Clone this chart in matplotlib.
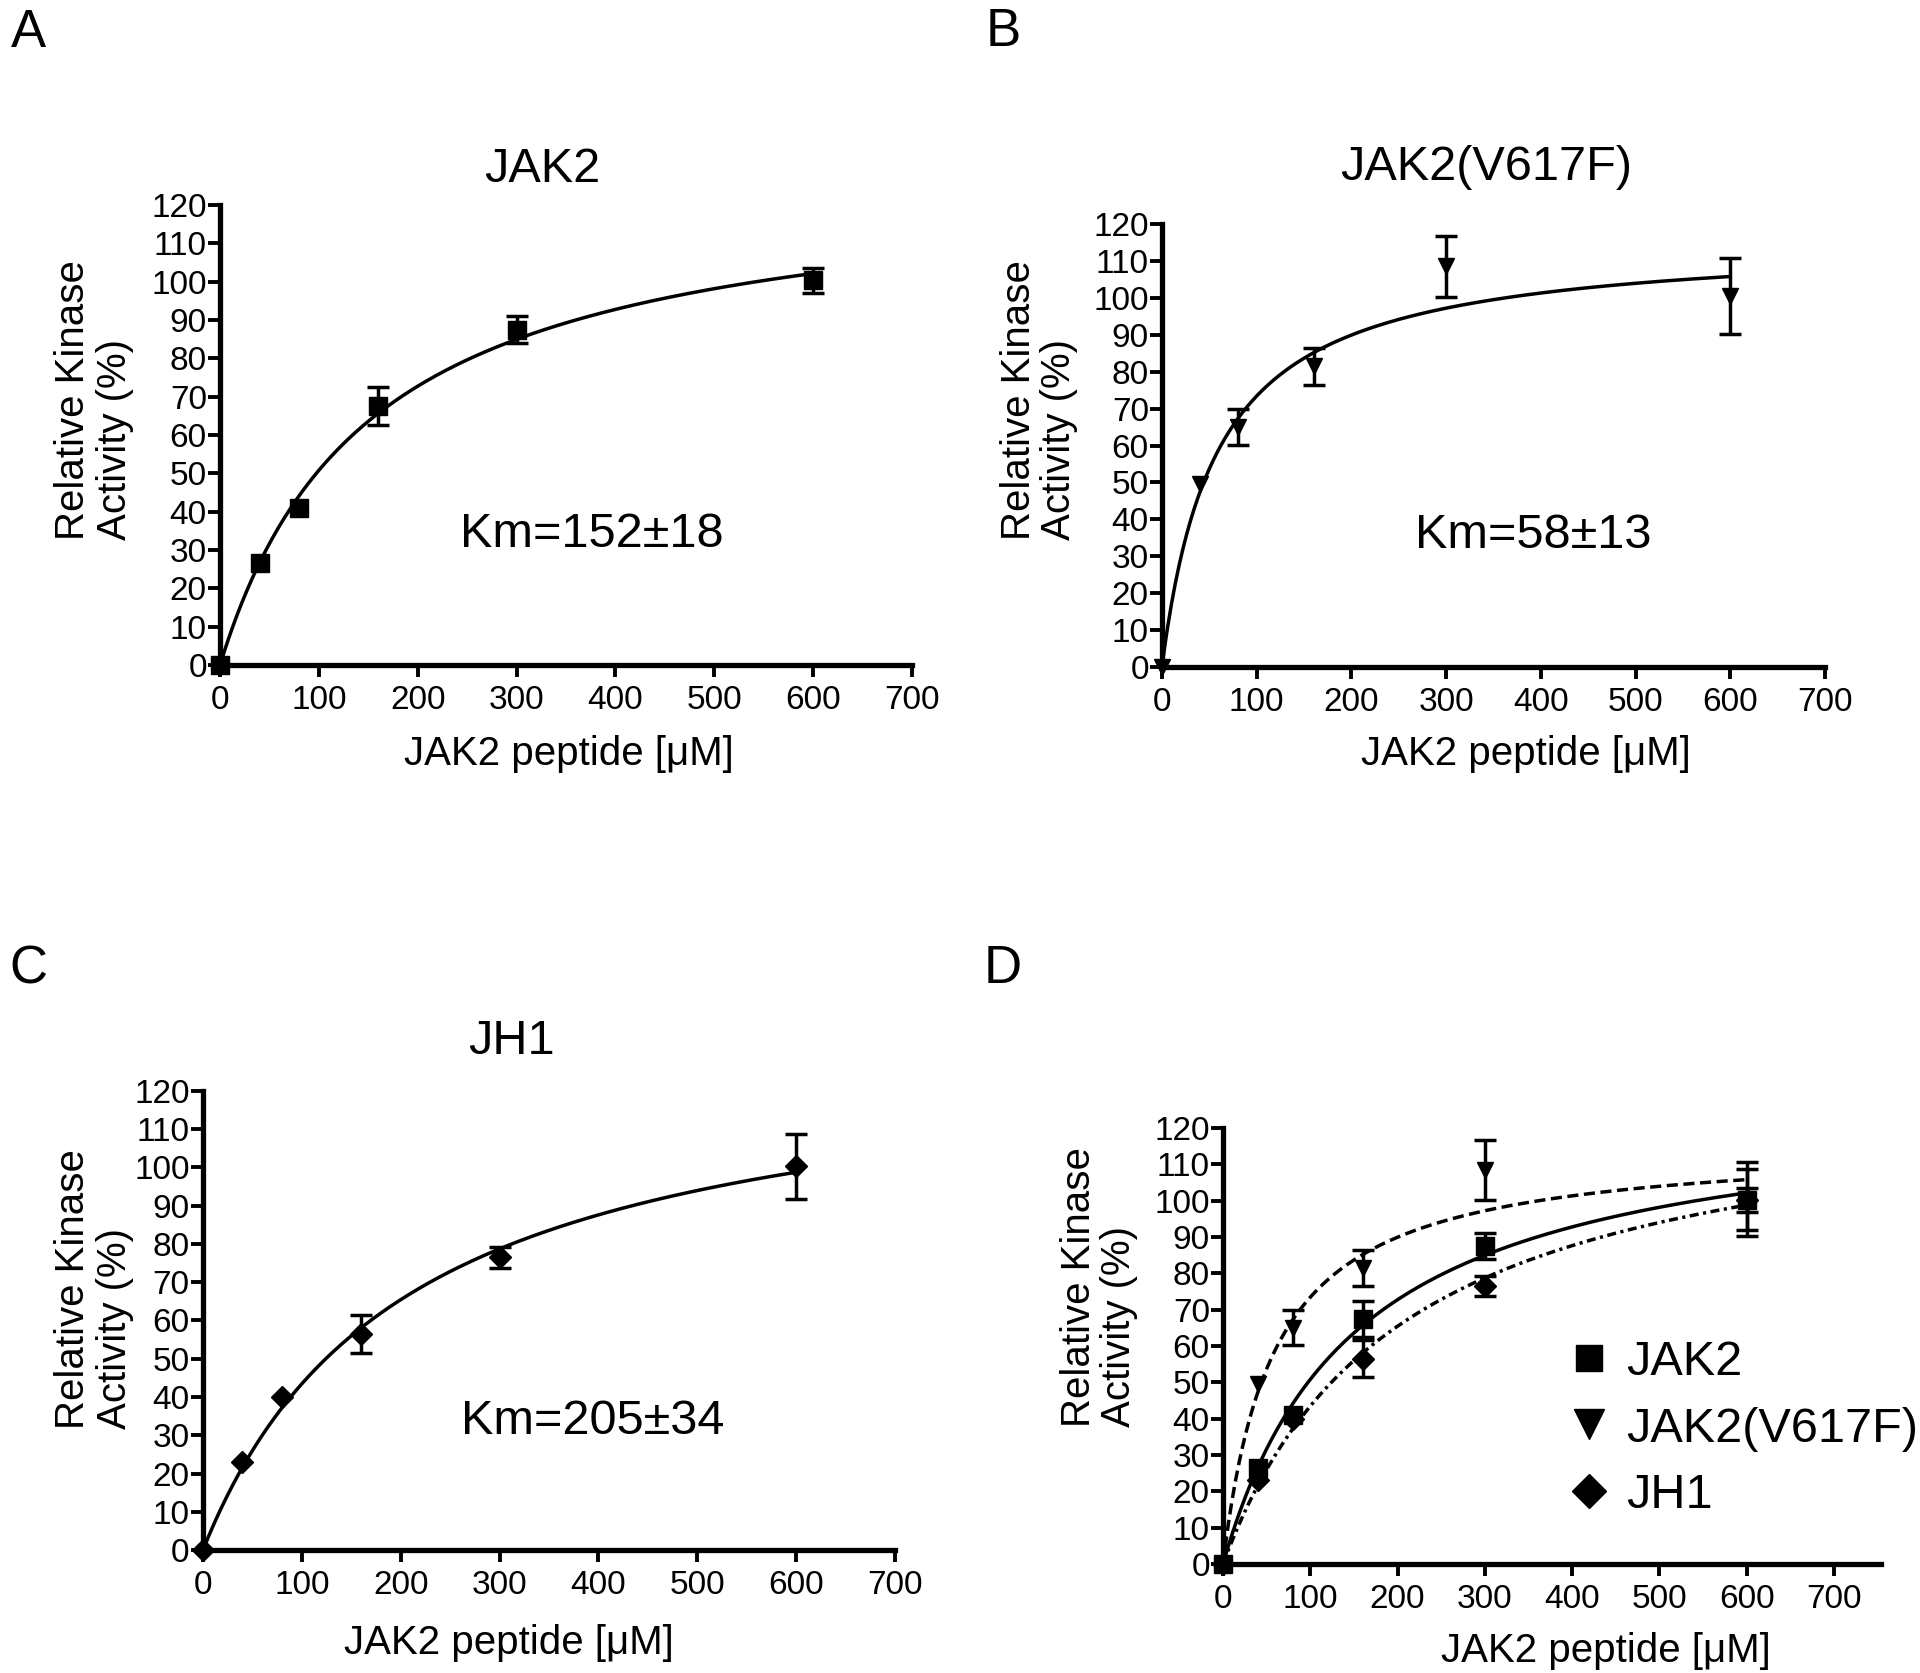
import matplotlib
matplotlib.use("Agg")
import matplotlib.pyplot as plt
from matplotlib.lines import Line2D
import numpy as np

plt.rcParams['font.family'] = ['Liberation Sans', 'DejaVu Sans']

# peptide concentrations (uM)
conc = [0, 40, 80, 160, 300, 600]

# relative kinase activity (%) and error (+/-); nan = bar hidden by symbol
nan = float('nan')
jak2_act = [0, 26.5, 41, 67.5, 87.5, 100.3]
jak2_err = [nan, nan, nan, 5, 3.5, 3.3]
v617f_act = [0, 49.5, 65, 81.5, 108.5, 100.5]
v617f_err = [nan, nan, 4.8, 5, 8.3, 10.2]
jh1_act = [0, 23, 40, 56.5, 76.5, 100.3]
jh1_err = [nan, nan, nan, 5, 2.7, 8.5]

# Michaelis-Menten fits: (Vmax, Km)
jak2_fit = (128, 152)
v617f_fit = (116, 58)
jh1_fit = (132.5, 205)

xticks = [0, 100, 200, 300, 400, 500, 600, 700]
yticks = list(range(0, 121, 10))

W, H = 1920, 1673


def px(x, y):
    # pixel position -> figure fraction
    return x / W, 1 - y / H


def mm_curve(fit):
    vmax, km = fit
    s = np.linspace(0, 600, 300)
    return s, vmax * s / (km + s)


def setup(ax, xmax=700):
    ax.set_xlim(0, xmax)
    ax.set_ylim(0, 120)
    ax.set_xticks(xticks)
    ax.set_yticks(yticks)
    for side in ['top', 'right']:
        ax.spines[side].set_visible(False)
    for side in ['left', 'bottom']:
        ax.spines[side].set_linewidth(3.8)
    ax.tick_params(direction='out', length=8.5, width=2.8, labelsize=24)
    ax.tick_params(axis='y', pad=1)
    ax.tick_params(axis='x', pad=6)


def data(ax, act, err, marker, ms):
    ax.errorbar(conc, act, yerr=err, fmt=marker, ms=ms, color='black',
                ecolor='black', elinewidth=2.5, capsize=8, capthick=2.5,
                clip_on=False, zorder=3)


fig = plt.figure(figsize=(19.2, 16.73), dpi=100)

axA = fig.add_axes([0.1146, 0.6025, 0.3604, 0.2750])
axB = fig.add_axes([0.6052, 0.6013, 0.3453, 0.2648])
axC = fig.add_axes([0.1057, 0.0735, 0.3604, 0.2744])
axD = fig.add_axes([0.6370, 0.0652, 0.3427, 0.2606])

for ax in [axA, axB, axC]:
    setup(ax)
setup(axD, xmax=754)

# A: JAK2
s, v = mm_curve(jak2_fit)
axA.plot(s, v, color='black', lw=2.5)
data(axA, jak2_act, jak2_err, 's', 13)
axA.text(376, 34, 'Km=152±18', fontsize=35, ha='center', va='center')

# B: JAK2(V617F)
s, v = mm_curve(v617f_fit)
axB.plot(s, v, color='black', lw=2.5)
data(axB, v617f_act, v617f_err, 'v', 11)
axB.text(392, 35.5, 'Km=58±13', fontsize=35, ha='center', va='center')

# C: JH1
s, v = mm_curve(jh1_fit)
axC.plot(s, v, color='black', lw=2.5)
data(axC, jh1_act, jh1_err, 'D', 11)
axC.text(394, 33.5, 'Km=205±34', fontsize=35, ha='center', va='center')

# D: all three
s, v = mm_curve(jak2_fit)
axD.plot(s, v, color='black', lw=2.5, ls='-')
s, v = mm_curve(v617f_fit)
axD.plot(s, v, color='black', lw=2.5, ls=(0, (3.2, 1.6)))
s, v = mm_curve(jh1_fit)
axD.plot(s, v, color='black', lw=2.5, ls=(0, (2.6, 1.3, 0.9, 1.3)))
data(axD, jak2_act, jak2_err, 's', 13)
data(axD, v617f_act, v617f_err, 'v', 11)
data(axD, jh1_act, jh1_err, 'D', 11)

handles = [
    Line2D([], [], marker='s', ls='none', color='black', ms=19, label='JAK2'),
    Line2D([], [], marker='v', ls='none', color='black', ms=21, label='JAK2(V617F)'),
    Line2D([], [], marker='D', ls='none', color='black', ms=17, label='JH1'),
]
fig.legend(handles=handles, loc='center left', bbox_to_anchor=px(1570, 1429),
           bbox_transform=fig.transFigure, frameon=False, fontsize=35,
           handlelength=0.8, handletextpad=0.35, borderpad=0, borderaxespad=0,
           labelspacing=0.45)

# titles
fig.text(*px(542, 169), 'JAK2', fontsize=35, ha='center', va='center')
fig.text(*px(1486, 167), 'JAK2(V617F)', fontsize=35, ha='center', va='center')
fig.text(*px(511, 1041), 'JH1', fontsize=35, ha='center', va='center')

# panel letters
for letter, (x, y) in zip('ABCD', [(28, 33), (1003, 32), (28, 969), (1003, 969)]):
    fig.text(*px(x, y), letter, fontsize=38, ha='center', va='center')

# axis labels
ylab = 'Relative Kinase\nActivity (%)'
for (x, y) in [(94, 400), (1039, 400), (94, 1289), (1099, 1287)]:
    fig.text(*px(x, y), ylab, fontsize=29, rotation=90, ha='center',
             va='center', multialignment='left', linespacing=1.1)

xlab = 'JAK2 peptide [μM]'
for (x, y) in [(569, 754), (1526, 754), (509, 1643), (1606, 1651)]:
    fig.text(*px(x, y), xlab, fontsize=29, ha='center', va='center')

fig.savefig('out.png', dpi=100)
